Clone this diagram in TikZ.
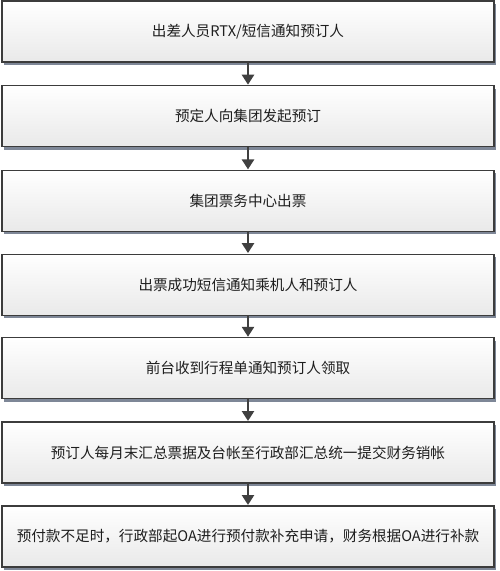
\documentclass[tikz,border=0pt]{standalone}
\usepackage{fontspec}
\newfontfamily\cjk{Noto Sans CJK SC}
\usetikzlibrary{shadows,arrows.meta}
\definecolor{boxline}{HTML}{3C3C3C}
\definecolor{shadowc}{HTML}{7E8797}
\definecolor{arrowc}{HTML}{404040}
\definecolor{bottomc}{HTML}{E9E9E9}
\definecolor{textc}{HTML}{1E1E1E}
\tikzset{
  stepbox/.style={draw=boxline, line width=1.2pt, top color=white, bottom color=bottomc,
    minimum width=492pt, minimum height=61pt, inner sep=0pt, outer sep=0pt,
    font=\cjk\fontsize{14.6pt}{16pt}\selectfont, text=textc,
    drop shadow={shadow xshift=1.5pt, shadow yshift=-3pt, fill=shadowc, opacity=1}},
  flowarrow/.style={draw=arrowc, line width=2.6pt, -{Triangle[length=10pt,width=12pt]}, shorten >=1pt}
}
\begin{document}
\begin{tikzpicture}[x=1pt,y=-1pt]
\useasboundingbox (0,0) rectangle (500,571);
\node[stepbox] (b1) at (248,31.5) {出差人员RTX/短信通知预订人};
\node[stepbox] (b2) at (248,116.2) {预定人向集团发起预订};
\node[stepbox] (b3) at (248,200.9) {集团票务中心出票};
\node[stepbox] (b4) at (248,284.6) {出票成功短信通知乘机人和预订人};
\node[stepbox] (b5) at (248,368.3) {前台收到行程单通知预订人领取};
\node[stepbox] (b6) at (248,452.5) {预订人每月末汇总票据及台帐至行政部汇总统一提交财务销帐};
\node[stepbox] (b7) at (248,536.5) {预付款不足时，行政部起OA进行预付款补充申请，财务根据OA进行补款};
\foreach \a/\b in {b1/b2,b2/b3,b3/b4,b4/b5,b5/b6,b6/b7}
  \draw[flowarrow] (\a.south) -- (\b.north);
\end{tikzpicture}
\end{document}
